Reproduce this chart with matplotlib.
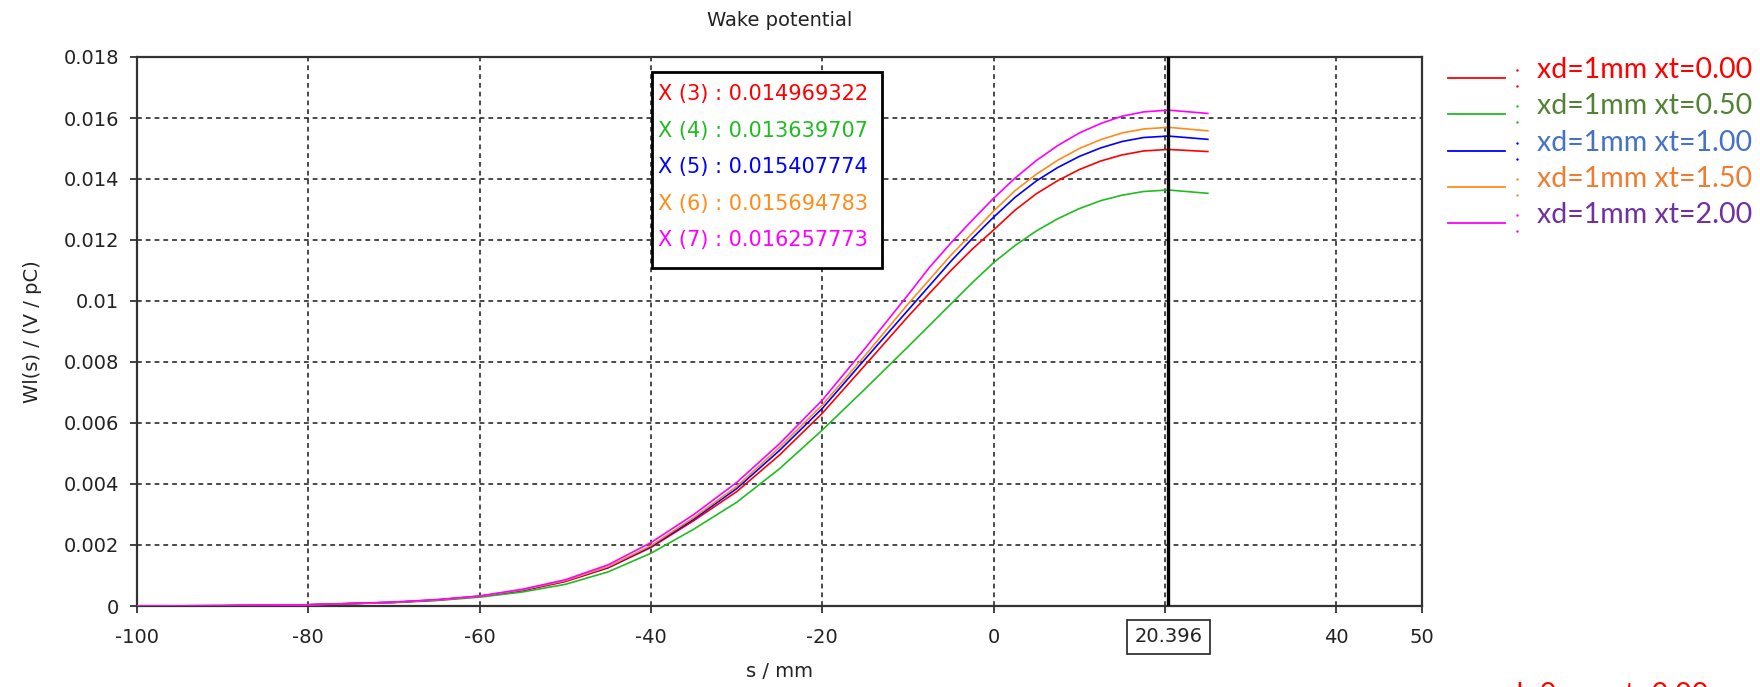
import matplotlib
matplotlib.use("Agg")
import matplotlib.pyplot as plt
from matplotlib.patches import Rectangle
import matplotlib.transforms as mtransforms

# ---------------- data ----------------
s_mm = [-100, -90, -80, -70, -65, -60, -55, -50, -45, -40, -35, -30, -25, -20,
        -15, -10, -7.5, -5, -2.5, 0, 2.5, 5, 7.5, 10, 12.5, 15, 17.5, 20.396, 25]

w_xt000 = [0, 0.00001, 0.00004, 0.00012, 0.00019, 0.00031, 0.00050, 0.00080, 0.00125, 0.00192,
           0.00280, 0.00375, 0.00495, 0.00632, 0.00790, 0.00949, 0.01025, 0.01100, 0.01170,
           0.01233, 0.01298, 0.01352, 0.01395, 0.01431, 0.01459, 0.01479, 0.01492,
           0.014969322, 0.01490]
w_xt050 = [0, 0.00001, 0.00004, 0.00011, 0.00018, 0.00029, 0.00046, 0.00071, 0.00112, 0.00173,
           0.00252, 0.00340, 0.00450, 0.00577, 0.00712, 0.00850, 0.00920, 0.00990, 0.01060,
           0.01126, 0.01182, 0.01230, 0.01270, 0.01303, 0.01329, 0.01347, 0.01359,
           0.013639707, 0.01353]
w_xt100 = [0, 0.00001, 0.00004, 0.00012, 0.00020, 0.00032, 0.00052, 0.00082, 0.00127, 0.00195,
           0.00285, 0.00385, 0.00510, 0.00648, 0.00810, 0.00970, 0.01050, 0.01130, 0.01205,
           0.01275, 0.01340, 0.01394, 0.01438, 0.01474, 0.01502, 0.01523, 0.01536,
           0.015407774, 0.01530]
w_xt150 = [0, 0.00001, 0.00004, 0.00012, 0.00020, 0.00032, 0.00053, 0.00083, 0.00129, 0.00198,
           0.00290, 0.00392, 0.00520, 0.00659, 0.00822, 0.00990, 0.01070, 0.01150, 0.01222,
           0.01295, 0.01362, 0.01416, 0.01462, 0.01500, 0.01529, 0.01551, 0.01564,
           0.015694783, 0.01558]
w_xt200 = [0, 0.00001, 0.00004, 0.00013, 0.00021, 0.00033, 0.00055, 0.00086, 0.00135, 0.00208,
           0.00300, 0.00405, 0.00532, 0.00675, 0.00845, 0.01020, 0.01110, 0.01190, 0.01265,
           0.01337, 0.01403, 0.01461, 0.01510, 0.01551, 0.01582, 0.01606, 0.01620,
           0.016257773, 0.01615]

series = [w_xt000, w_xt050, w_xt100, w_xt150, w_xt200]
line_colors = ['#FF0000', '#22BB22', '#0000FF', '#FF8C1A', '#FF00FF']
legend_labels = ['xd=1mm xt=0.00', 'xd=1mm xt=0.50', 'xd=1mm xt=1.00',
                 'xd=1mm xt=1.50', 'xd=1mm xt=2.00']
legend_text_colors = ['#FF0000', '#548235', '#4472C4', '#ED7D31', '#7030A0']
marker_labels = ['X (3) : 0.014969322', 'X (4) : 0.013639707', 'X (5) : 0.015407774',
                 'X (6) : 0.015694783', 'X (7) : 0.016257773']
marker_s = 20.396

x_ticks = [-100, -80, -60, -40, -20, 0, 20, 40, 50]
x_ticklabels = ['-100', '-80', '-60', '-40', '-20', '0', '', '40', '50']
y_ticks = [0, 0.002, 0.004, 0.006, 0.008, 0.01, 0.012, 0.014, 0.016, 0.018]
y_ticklabels = ['0', '0.002', '0.004', '0.006', '0.008', '0.01', '0.012', '0.014', '0.016', '0.018']

# ---------------- figure ----------------
W, H = 1760, 687
fig = plt.figure(figsize=(W / 100, H / 100), dpi=100)
fig.patch.set_facecolor('white')

def fx(px):
    return px / W

def fy(py):
    return 1 - py / H

ax_l, ax_r, ax_t, ax_b = 137, 1422, 57, 606
ax = fig.add_axes([fx(ax_l), fy(ax_b), fx(ax_r - ax_l), (ax_b - ax_t) / H])

for ys, c in zip(series, line_colors):
    ax.plot(s_mm, ys, color=c, lw=1.2, zorder=3)

ax.axvline(marker_s, color='black', lw=2.4, zorder=4)

ax.set_xlim(-100, 50)
ax.set_ylim(0, 0.018)
ax.set_xticks(x_ticks)
ax.set_xticklabels(x_ticklabels)
ax.set_yticks(y_ticks)
ax.set_yticklabels(y_ticklabels)
ax.tick_params(axis='both', direction='out', length=5, width=1.2, labelsize=14,
               colors='#222222')
ax.tick_params(axis='x', pad=11)
ax.tick_params(axis='y', pad=8)
ax.grid(True, color='#222222', linestyle=(0, (3, 2.5)), lw=1.15)
for sp in ax.spines.values():
    sp.set_linewidth(1.6)
    sp.set_color('#333333')

ax.set_xlabel('s / mm', fontsize=14, color='#222222')
ax.xaxis.set_label_coords(0.5, (ax_b - 662) / (ax_b - ax_t))
ax.set_ylabel('Wl(s) / (V / pC)', fontsize=14, color='#222222')
ax.yaxis.set_label_coords((42 - ax_l) / (ax_r - ax_l), 0.5)

# boxed marker position label
trans = mtransforms.blended_transform_factory(ax.transData, fig.transFigure)
ax.text(marker_s, fy(637), '20.396', transform=trans, ha='center', va='center',
        fontsize=14, color='#222222',
        bbox=dict(boxstyle='square,pad=0.4', fc='white', ec='#222222', lw=1.2))

fig.text(fx(780), fy(20), 'Wake potential', ha='center', va='center',
         fontsize=14, color='#222222')

# marker value box
fig.patches.append(Rectangle((fx(652), fy(268)), fx(230), 196 / H,
                             transform=fig.transFigure, fc='white', ec='black',
                             lw=2.0, zorder=5))
for i, (lab, c) in enumerate(zip(marker_labels, line_colors)):
    fig.text(fx(658), fy(94 + i * 36.6), lab, ha='left', va='center',
             fontsize=15, color=c, zorder=6)

# external legend
for i, (lab, lc, tc) in enumerate(zip(legend_labels, line_colors, legend_text_colors)):
    yline = 78 + i * 36.3
    fig.add_artist(plt.Line2D([fx(1448), fx(1505)], [fy(yline), fy(yline)],
                              transform=fig.transFigure, color=lc, lw=1.3))
    fig.add_artist(plt.Line2D([fx(1517), fx(1517)], [fy(yline - 8), fy(yline + 8)],
                              transform=fig.transFigure, color=lc, lw=0,
                              marker='.', ms=1.5))
    fig.text(fx(1537), fy(yline), lab, ha='left', va='baseline',
             fontsize=20.5, color=tc, family=['Lato', 'DejaVu Sans'])

# partially visible entry at bottom right
fig.text(fx(1493), fy(703), 'xd=0mm xt=0.00', ha='left', va='baseline',
         fontsize=20.5, color='#FF0000', family=['Lato', 'DejaVu Sans'])

fig.savefig('out.png', dpi=100)
